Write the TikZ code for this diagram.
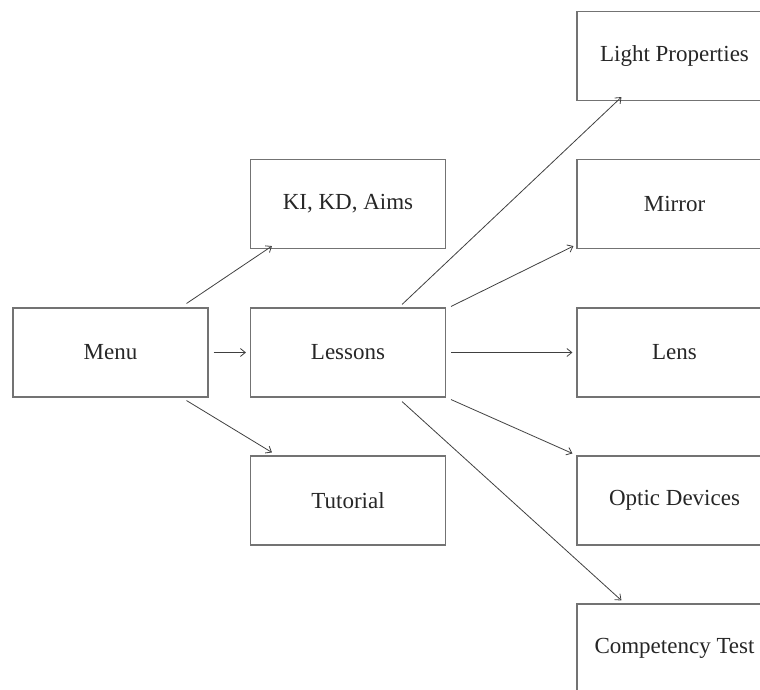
\documentclass[tikz,border=0pt]{standalone}
\usepackage{fontspec}
\setmainfont{Liberation Serif}
\usetikzlibrary{arrows.meta}
\begin{document}
\begin{tikzpicture}[x=1pt,y=-1pt,
  box/.style={draw=black!55,line width=1.1pt,minimum width=195pt,minimum height=89pt,inner sep=0pt,
    font=\fontsize{23}{27}\selectfont,text=black!85},
  conn/.style={draw=black!75,line width=0.8pt,-{Straight Barb[length=5pt,width=8pt]}}]
\useasboundingbox (0,0) rectangle (760,689);
\node[box] (menu) at (110.5,352.5) {Menu};
\node[box] (ki) at (348,204) {KI, KD, Aims};
\node[box] (les) at (348,352.5) {Lessons};
\node[box] (tut) at (348,500.5) {Tutorial};
\node[box] (light) at (674.5,56) {Light Properties};
\node[box] (mirror) at (674.5,204) {Mirror};
\node[box] (lens) at (674.5,352.5) {Lens};
\node[box] (optic) at (674.5,500.5) {Optic Devices};
\node[box] (comp) at (674.5,648.5) {Competency Test};
\draw[conn] ([shift={(-22,-4)}]menu.north east) -- ([shift={(22,-3)}]ki.south west);
\draw[conn] ([shift={(5,0)}]menu.east) -- ([shift={(-4,0)}]les.west);
\draw[conn] ([shift={(-22,3)}]menu.south east) -- ([shift={(22,-3)}]tut.north west);
\draw[conn] ([shift={(-44,-3)}]les.north east) -- ([shift={(45,-4)}]light.south west);
\draw[conn] ([shift={(5,-1)}]les.north east) -- ([shift={(-3,-3)}]mirror.south west);
\draw[conn] ([shift={(5,0)}]les.east) -- ([shift={(-4,0)}]lens.west);
\draw[conn] ([shift={(5,2)}]les.south east) -- ([shift={(-4,-2)}]optic.north west);
\draw[conn] ([shift={(-44,4)}]les.south east) -- ([shift={(45,-3)}]comp.north west);
\end{tikzpicture}
\end{document}
